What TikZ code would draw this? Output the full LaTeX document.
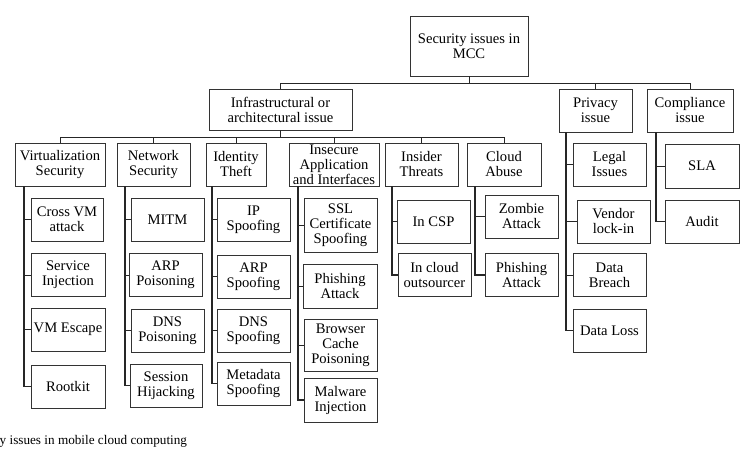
\documentclass[tikz,border=0pt]{standalone}
\usepackage{fontspec}
\setmainfont{Liberation Serif}
\begin{document}
\begin{tikzpicture}[x=1pt,y=-1pt,
  bx/.style={draw=black!80,line width=0.9pt,inner sep=0pt,align=center,
    font=\fontsize{14.6}{15}\selectfont,minimum width=73pt,minimum height=43pt},
  ln/.style={draw=black!85,line width=1pt},
  sp/.style={draw=black!85,line width=1.3pt}]
\useasboundingbox (0,0) rectangle (753,463);
% top levels
\node[bx,minimum width=118pt,minimum height=60pt] (root) at (469,46) {Security issues in\\MCC};
\node[bx,minimum width=143pt,minimum height=41pt] (infra) at (280.5,109.5) {Infrastructural or\\architectural issue};
\node[bx,minimum width=73pt] (priv) at (595.5,110.5) {Privacy\\issue};
\node[bx,minimum width=86pt] (comp) at (690,110.5) {Compliance\\issue};
% level 2
\node[bx,minimum width=90pt] (virt) at (60,164.5) {Virtualization\\Security};
\node[bx,minimum width=73pt] (net) at (153.5,164.5) {Network\\Security};
\node[bx,minimum width=60pt] (ident) at (236,164.5) {Identity\\Theft};
\node[bx,minimum width=90pt] (insec) at (334,164.5) {Insecure\\Application\\and Interfaces};
\node[bx,minimum width=73pt] (insider) at (421.5,164.5) {Insider\\Threats};
\node[bx,minimum width=74pt] (cloud) at (504,164.5) {Cloud\\Abuse};
% buses
\coordinate (bus1) at (469,83);
\coordinate (bus2) at (280.5,137);
\draw[ln] (root.south) -- (bus1);
\draw[ln] (infra.north) |- (bus1);
\draw[ln] (priv.north) |- (bus1);
\draw[ln] (comp.north) |- (bus1);
\draw[ln] (infra.south) -- (bus2);
\foreach \n in {virt,net,ident,insec,insider,cloud}{\draw[ln] (\n.north) |- (bus2);}
% virtualization
\node[bx,minimum width=72pt] (crossvm) at (67,219.5) {Cross VM\\attack};
\node[bx,minimum width=74pt] (service) at (68,275) {Service\\Injection};
\node[bx,minimum width=74pt] (vmesc) at (68,329.5) {VM Escape};
\node[bx,minimum width=74pt] (rootkit) at (68,386.5) {Rootkit};
% network
\node[bx] (mitm) at (167.5,219.5) {MITM};
\node[bx] (arpp) at (165.5,275) {ARP\\Poisoning};
\node[bx] (dnsp) at (167.5,330.5) {DNS\\Poisoning};
\node[bx,minimum width=72pt] (sess) at (166,385.5) {Session\\Hijacking};
% identity
\node[bx] (ips) at (253.5,219.5) {IP\\Spoofing};
\node[bx] (arps) at (253.5,276.5) {ARP\\Spoofing};
\node[bx] (dnss) at (253.5,330.5) {DNS\\Spoofing};
\node[bx] (meta) at (253.5,383.5) {Metadata\\Spoofing};
% insecure
\node[bx,minimum height=54pt] (ssl) at (340.5,225) {SSL\\Certificate\\Spoofing};
\node[bx,minimum width=74pt,minimum height=44pt] (phish) at (340,286) {Phishing\\Attack};
\node[bx,minimum height=52pt] (browser) at (340.5,345) {Browser\\Cache\\Poisoning};
\node[bx,minimum height=44pt] (malware) at (340.5,400) {Malware\\Injection};
% insider
\node[bx] (incsp) at (433.5,221.5) {In CSP};
\node[bx] (incloud) at (434.5,275) {In cloud\\outsourcer};
% cloud abuse
\node[bx] (zombie) at (521.5,216.5) {Zombie\\Attack};
\node[bx] (phish2) at (521.5,275) {Phishing\\Attack};
% privacy
\node[bx] (legal) at (609.5,164.5) {Legal\\Issues};
\node[bx] (vendor) at (613.5,221.5) {Vendor\\lock-in};
\node[bx] (breach) at (609.5,275) {Data\\Breach};
\node[bx] (dloss) at (609.5,330.5) {Data Loss};
% compliance
\node[bx,minimum width=74pt,minimum height=44pt] (sla) at (702,166) {SLA};
\node[bx,minimum width=74pt] (audit) at (702,221.5) {Audit};
% spines
\coordinate (svirt) at (24,186);
\coordinate (snet) at (125,186);
\coordinate (sident) at (212,186);
\coordinate (sinsec) at (298,186);
\coordinate (sinsider) at (392,186);
\coordinate (scloud) at (475,186);
\coordinate (spriv) at (566,132);
\coordinate (scomp) at (656,132);
\draw[sp] (svirt) |- (rootkit.west);
\foreach \n in {crossvm,service,vmesc}{\draw[ln] (svirt) |- (\n.west);}
\draw[sp] (snet) |- (sess.west);
\foreach \n in {mitm,arpp,dnsp}{\draw[ln] (snet) |- (\n.west);}
\draw[sp] (sident) |- (meta.west);
\foreach \n in {ips,arps,dnss}{\draw[ln] (sident) |- (\n.west);}
\draw[sp] (sinsec) |- (malware.west);
\foreach \n in {ssl,phish,browser}{\draw[ln] (sinsec) |- (\n.west);}
\draw[sp] (sinsider) |- (incloud.west);
\draw[ln] (sinsider) |- (incsp.west);
\draw[sp] (scloud) |- (phish2.west);
\draw[ln] (scloud) |- (zombie.west);
\draw[sp] (spriv) |- (dloss.west);
\foreach \n in {legal,vendor,breach}{\draw[ln] (spriv) |- (\n.west);}
\draw[sp] (scomp) |- (audit.west);
\draw[ln] (scomp) |- (sla.west);
% caption
\node[anchor=west,inner sep=0pt,font=\fontsize{13.2}{15}\selectfont] (cap) at (-0.5,441) {y issues in mobile cloud computing};
\end{tikzpicture}
\end{document}
